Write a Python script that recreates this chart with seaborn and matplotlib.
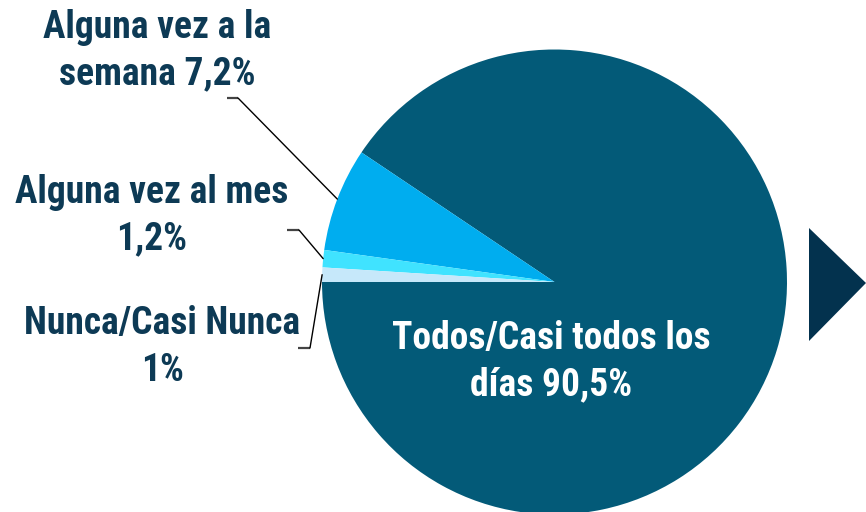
import numpy as np
import matplotlib
matplotlib.use("Agg")
import matplotlib.pyplot as plt
from matplotlib import font_manager
from matplotlib.patches import Polygon
import seaborn as sns

# ---- data ----
categories = ["Todos/Casi todos los días", "Alguna vez a la semana",
              "Alguna vez al mes", "Nunca/Casi Nunca"]
values = [90.5, 7.2, 1.2, 1.0]
label_texts = ["Todos/Casi todos los\ndías 90,5%", "Alguna vez a la\nsemana 7,2%",
               "Alguna vez al mes\n1,2%", "Nunca/Casi Nunca\n1%"]
colors = ["#035a78", "#00adef", "#40e3ff", "#c6e8fa"]

sns.set_theme(style="white")

avail = {f.name for f in font_manager.fontManager.ttflist}
family = "DejaVu Sans"
for cand in ["Liberation Sans Narrow", "Roboto Condensed", "DejaVu Sans Condensed",
             "Open Sans Condensed", "Liberation Sans"]:
    if cand in avail:
        family = cand
        break
plt.rcParams["font.family"] = [family, "DejaVu Sans"]

W, H = 866, 512
fig = plt.figure(figsize=(W / 100, H / 100), dpi=100)
ax = fig.add_axes([0, 0, 1, 1])

def P(x, y):
    return x, H - y

cx, cy = P(554.5, 282)
R = 232.5
wedges, _ = ax.pie(values, colors=colors, startangle=180, counterclock=True,
                   center=(cx, cy), radius=R, frame=False,
                   wedgeprops=dict(linewidth=0))
ax.set_xlim(0, W)
ax.set_ylim(0, H)
ax.set_aspect("equal", adjustable="box")
ax.axis("off")

txt_color = "#0d3a55"
fs = 27
# big slice label
ax.text(*P(551, 362), label_texts[0], color="white", fontsize=fs, fontweight="bold",
        ha="center", va="center", linespacing=1.32)
# outer labels
label_pos = {1: P(157, 51), 2: P(152, 216), 3: P(162, 347)}
elbows = {1: (P(227, 98), P(238, 98)), 2: (P(287, 230), P(299, 230)),
          3: (P(298, 348), P(310, 348))}
for i in [1, 2, 3]:
    ax.text(*label_pos[i], label_texts[i], color=txt_color, fontsize=fs,
            fontweight="bold", ha="center", va="center", linespacing=1.32)
    w = wedges[i]
    mid = np.deg2rad((w.theta1 + w.theta2) / 2)
    rim = (cx + R * np.cos(mid), cy + R * np.sin(mid))
    a, b = elbows[i]
    ax.plot([a[0], b[0]], [a[1], b[1]], color="#444444", lw=1.6, solid_capstyle="butt")
    ax.plot([b[0], rim[0]], [b[1], rim[1]], color="black", lw=1.0)

# arrow triangle at right
tri = Polygon([P(809, 228), P(866, 283), P(809, 341)], closed=True,
              facecolor="#03324e", edgecolor="none")
ax.add_patch(tri)

fig.savefig("out.png", dpi=100)
